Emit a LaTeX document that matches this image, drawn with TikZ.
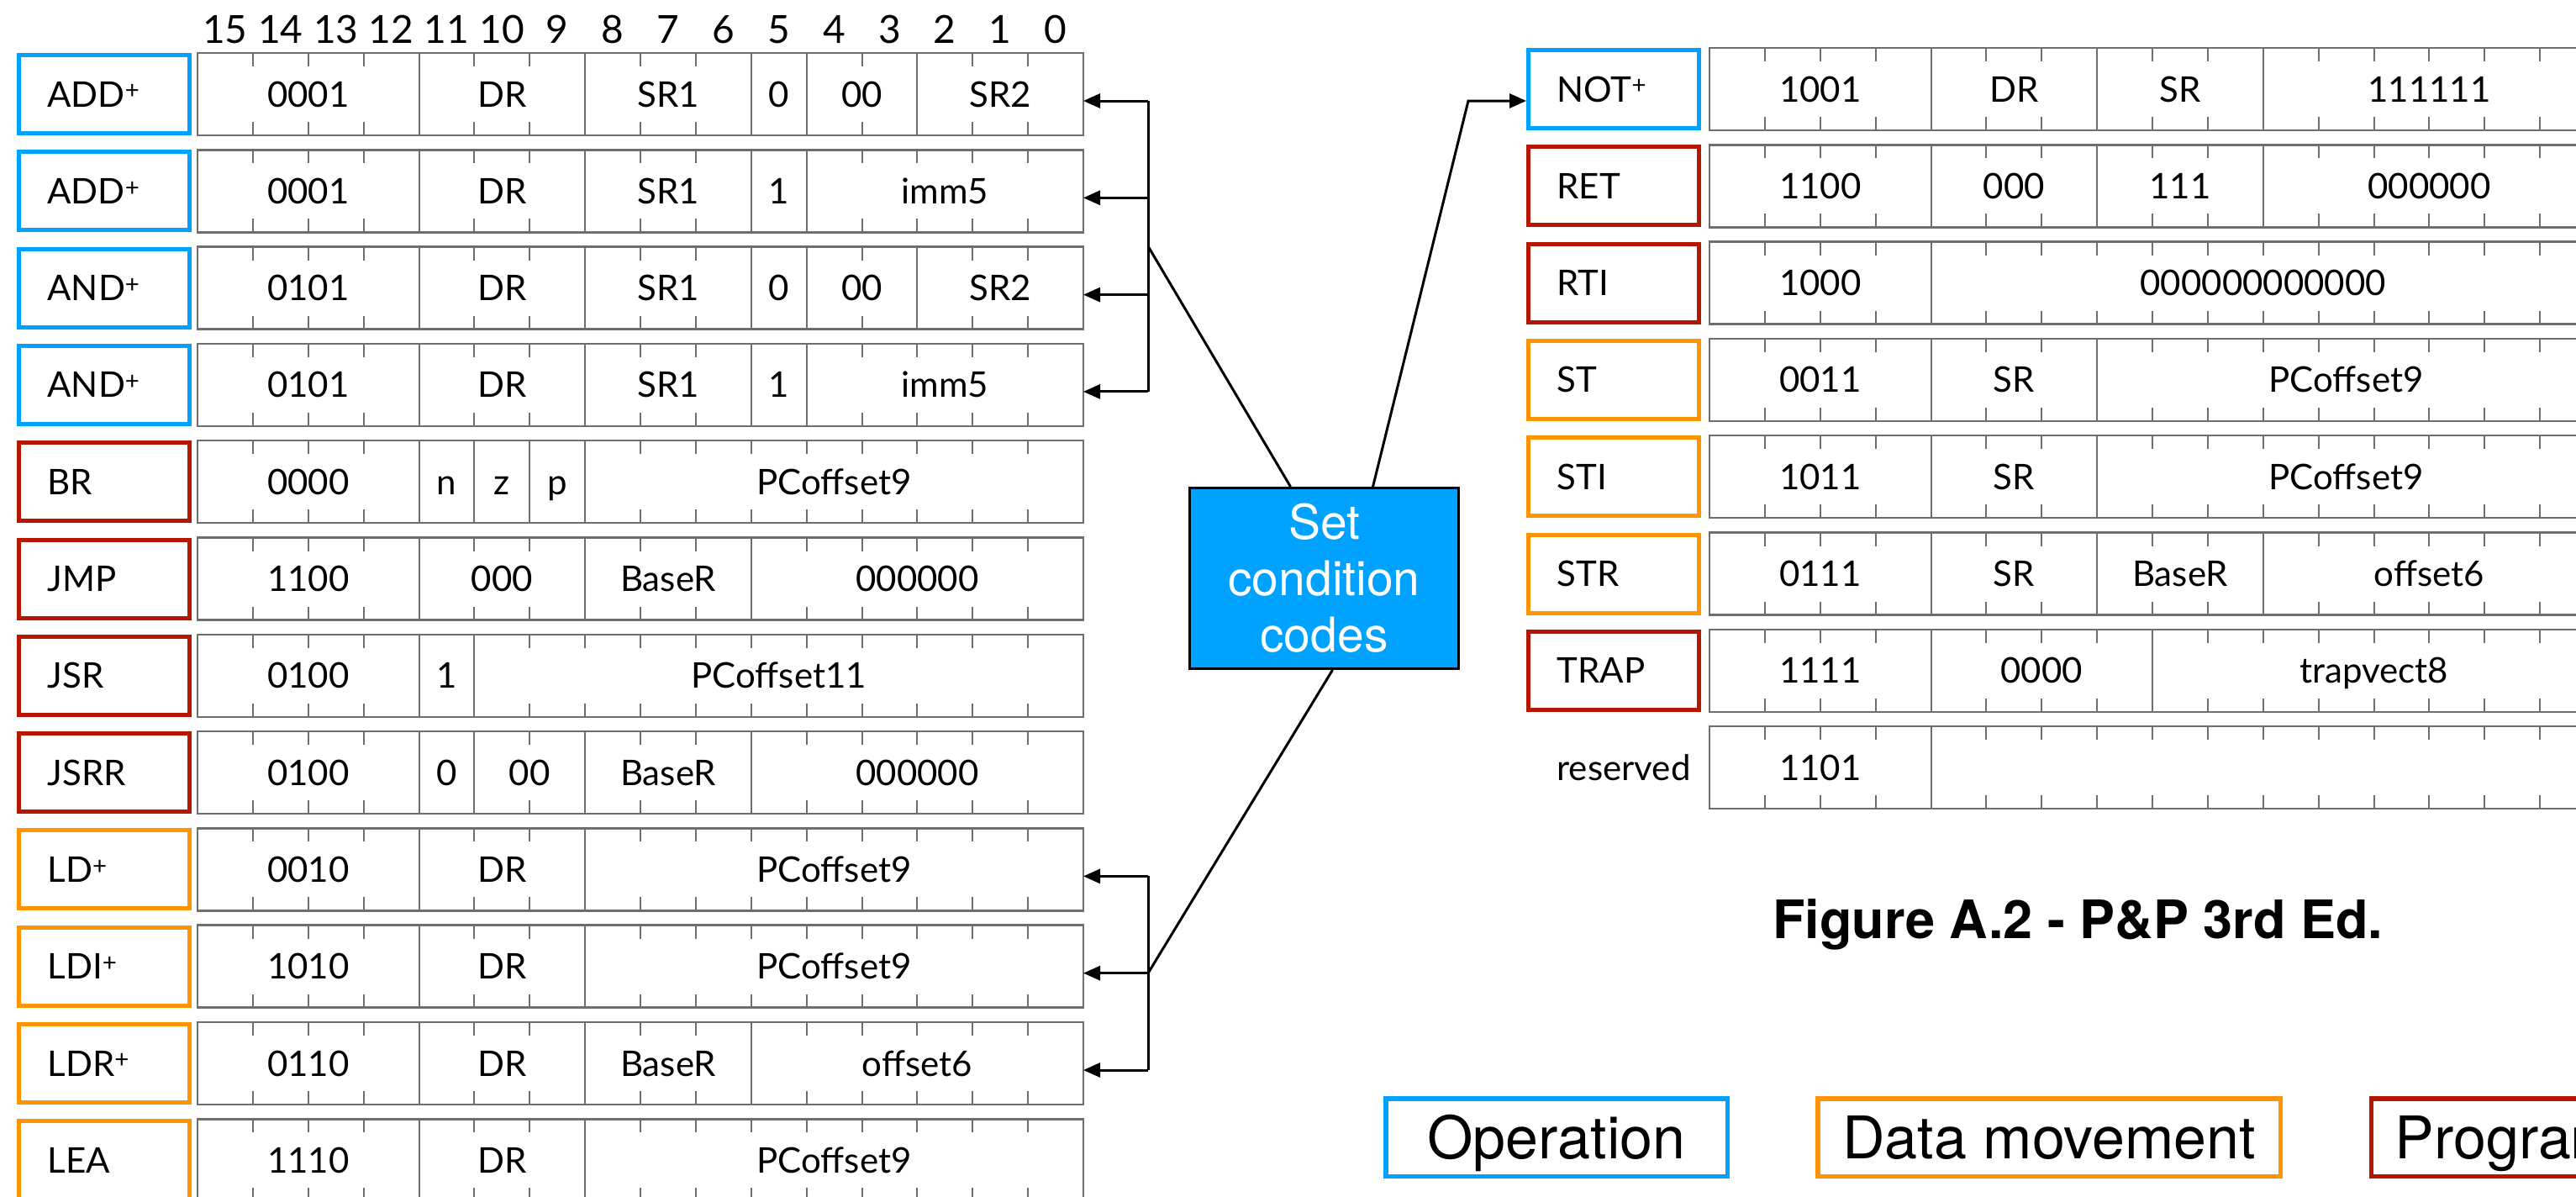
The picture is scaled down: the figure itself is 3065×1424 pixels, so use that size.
\documentclass[tikz,border=0pt]{standalone}
\usepackage{fontspec}
\usepackage{tikz}
\usepackage{xcolor}
\usetikzlibrary{positioning,arrows.meta,calc}

\newfontfamily\tabfont{Lato}
\newfontfamily\helvfont{TeX Gyre Heros}

\definecolor{opblue}{HTML}{00A2FF}
\definecolor{dmorange}{HTML}{FF9300}
\definecolor{ctlred}{HTML}{B51700}
\definecolor{rulegray}{HTML}{6E6E6E}

\tikzset{
  oplabel/.style={draw=#1, line width=5pt, minimum width=203pt, minimum height=93pt,
    text width=135pt, inner xsep=34pt, inner ysep=0pt, align=left,
    text height=30pt, text depth=0pt, font=\tabfont\fontsize{42}{50}\selectfont},
  fieldtext/.style={inner sep=0pt, text height=30pt, text depth=0pt,
    font=\tabfont\fontsize{42}{50}\selectfont},
  bitnum/.style={inner sep=0pt, font=\tabfont\fontsize{46}{54}\selectfont},
  rowline/.style={draw=rulegray, line width=2.5pt},
  tick/.style={draw=rulegray, line width=2pt},
  wire/.style={line width=3pt},
  ccbox/.style={draw=black, line width=3pt, fill=opblue, text=white, align=center,
    minimum width=320pt, minimum height=215pt,
    font=\helvfont\fontsize{57}{67}\selectfont},
  legendbox/.style={draw=#1, line width=5.5pt, minimum height=92.5pt, inner xsep=28pt,
    text height=51pt, text depth=0pt, font=\helvfont\fontsize{70}{84}\selectfont},
}

\begin{document}
\begin{tikzpicture}[x=1pt,y=-1pt,>={Triangle[length=20pt,width=17pt]}]
    \useasboundingbox (0,0) rectangle (3065,1424);
    \clip (0,0) rectangle (3065,1424);

    % bit numbers
    \foreach \b in {0,...,15}
        \node[bitnum] (bit\b) at ({235+65.875*(15.5-\b)},35) {\b};

    % left table
    \foreach \r/\lab/\col/\flds in {
        0/ADD\textsuperscript{+}/opblue/{0/4/0001,4/3/DR,7/3/SR1,10/1/0,11/2/00,13/3/SR2},
        1/ADD\textsuperscript{+}/opblue/{0/4/0001,4/3/DR,7/3/SR1,10/1/1,11/5/imm5},
        2/AND\textsuperscript{+}/opblue/{0/4/0101,4/3/DR,7/3/SR1,10/1/0,11/2/00,13/3/SR2},
        3/AND\textsuperscript{+}/opblue/{0/4/0101,4/3/DR,7/3/SR1,10/1/1,11/5/imm5},
        4/BR/ctlred/{0/4/0000,4/1/n,5/1/z,6/1/p,7/9/PCoffset9},
        5/JMP/ctlred/{0/4/1100,4/3/000,7/3/BaseR,10/6/000000},
        6/JSR/ctlred/{0/4/0100,4/1/1,5/11/PCoffset11},
        7/JSRR/ctlred/{0/4/0100,4/1/0,5/2/00,7/3/BaseR,10/6/000000},
        8/LD\textsuperscript{+}/dmorange/{0/4/0010,4/3/DR,7/9/PCoffset9},
        9/LDI\textsuperscript{+}/dmorange/{0/4/1010,4/3/DR,7/9/PCoffset9},
        10/LDR\textsuperscript{+}/dmorange/{0/4/0110,4/3/DR,7/3/BaseR,10/6/offset6},
        11/LEA/dmorange/{0/4/1110,4/3/DR,7/9/PCoffset9}}{
        \pgfmathsetmacro\yt{63+115.3*\r}
        \pgfmathsetmacro\yc{\yt+49}
        \node[oplabel=\col] (lop\r) at (124,\yc) {\lab};
        \draw[rowline] (235,\yt) rectangle (1289,\yt+98);
        \foreach \k in {1,...,15} {
            \draw[tick] (235+65.875*\k,\yt) -- ++(0,16);
            \draw[tick] (235+65.875*\k,\yt+98) -- ++(0,-16);
        }
        \foreach \s/\w/\t in \flds {
            \ifnum\s>0 \draw[tick] (235+65.875*\s,\yt) -- ++(0,98); \fi
            \node[fieldtext] (lf\r-\s) at ({235+65.875*(\s+\w/2)},\yc) {\t};
        }
        \coordinate (lrow\r) at (1289,\yc+8);
    }

    % right table
    \foreach \r/\lab/\col/\flds in {
        0/NOT\textsuperscript{+}/opblue/{0/4/1001,4/3/DR,7/3/SR,10/6/111111},
        1/RET/ctlred/{0/4/1100,4/3/000,7/3/111,10/6/000000},
        2/RTI/ctlred/{0/4/1000,4/12/000000000000},
        3/ST/dmorange/{0/4/0011,4/3/SR,7/9/PCoffset9},
        4/STI/dmorange/{0/4/1011,4/3/SR,7/9/PCoffset9},
        5/STR/dmorange/{0/4/0111,4/3/SR,7/3/BaseR,10/6/offset6},
        6/TRAP/ctlred/{0/4/1111,4/4/0000,8/8/trapvect8},
        7/reserved/none/{0/4/1101,4/12/}}{
        \pgfmathsetmacro\yt{57+115.3*\r}
        \pgfmathsetmacro\yc{\yt+49}
        \node[oplabel=\col] (rop\r) at (1920,\yc) {\lab};
        \draw[rowline] (2034,\yt) rectangle (3088,\yt+98);
        \foreach \k in {1,...,15} {
            \draw[tick] (2034+65.875*\k,\yt) -- ++(0,16);
            \draw[tick] (2034+65.875*\k,\yt+98) -- ++(0,-16);
        }
        \foreach \s/\w/\t in \flds {
            \ifnum\s>0 \draw[tick] (2034+65.875*\s,\yt) -- ++(0,98); \fi
            \node[fieldtext] (rf\r-\s) at ({2034+65.875*(\s+\w/2)},\yc) {\t};
        }
    }

    % condition codes
    \node[ccbox] (cc) at (1575.5,688) {Set\\condition\\codes};
    \coordinate (ubx) at (1366,0);
    \coordinate (ncorner) at (1747,120);

    \foreach \r in {0,1,2,3,8,9,10}
        \draw[wire,->] (lrow\r -| ubx) -- (lrow\r);
    \draw[wire] (lrow0 -| ubx) -- (lrow3 -| ubx);
    \draw[wire] (lrow8 -| ubx) -- (lrow10 -| ubx);
    \coordinate (umid) at ($(lrow0 -| ubx)!0.5!(lrow3 -| ubx)$);

    \draw[wire] (umid) -- ([xshift=-40pt]cc.north);
    \draw[wire] ([xshift=10pt]cc.south) -- (lrow9 -| ubx);
    \draw[wire,->] ([xshift=58pt]cc.north) -- (ncorner) -- (rop0.west |- ncorner);

    % caption and legend
    \node[anchor=base west, inner sep=0pt, font=\helvfont\bfseries\fontsize{63}{75}\selectfont]
        (caption) at (2109,1116) {Figure A.2 - P\&P 3rd Ed.};
    \node[legendbox=opblue, minimum width=406.5pt] (legop) at (1852,1353) {Operation};
    \node[legendbox=dmorange, minimum width=550.5pt] (legdm) at (2438,1353) {Data movement};
    \node[legendbox=ctlred, anchor=west] (legctl) at (2818.75,1353) {Program control};
\end{tikzpicture}
\end{document}
